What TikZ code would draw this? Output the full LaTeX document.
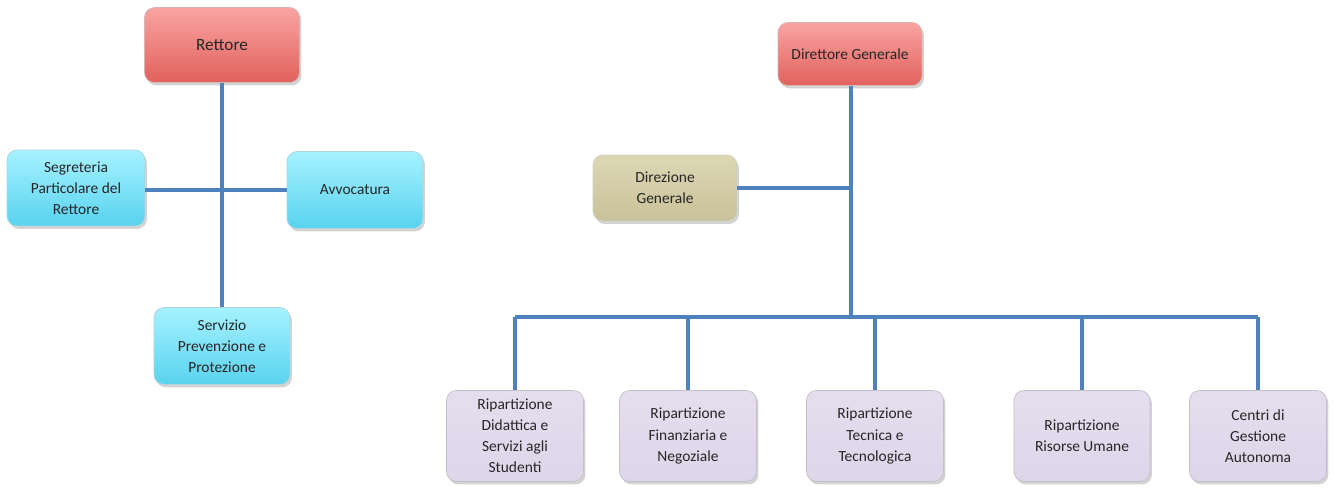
\documentclass[tikz,border=0pt]{standalone}
\usepackage{fontspec}
\setmainfont{Carlito}
\usepackage{tikz}
\usetikzlibrary{positioning, shadows}
\definecolor{linkblue}{HTML}{4F81BD}
\definecolor{redtop}{HTML}{F8A4A2}
\definecolor{redbot}{HTML}{E2615C}
\definecolor{cyantop}{HTML}{A6F2FF}
\definecolor{cyanbot}{HTML}{58D3EF}
\definecolor{khakitop}{HTML}{DDD7B4}
\definecolor{khakibot}{HTML}{C9C199}
\definecolor{lilac}{HTML}{DDD6EA}

\begin{document}
\begin{tikzpicture}[x=0.02cm, y=-0.02cm,
  box/.style={rounded corners=0.2cm, align=center, inner sep=2pt,
    font=\fontsize{8.8}{12}\selectfont, text=black!85,
    drop shadow={shadow xshift=0.04cm, shadow yshift=-0.06cm, opacity=0.35}},
  redbox/.style={box, top color=redtop, bottom color=redbot, draw=redbot!70!black!40},
  cyanbox/.style={box, top color=cyantop, bottom color=cyanbot, draw=cyanbot!70!black!40},
  khakibox/.style={box, top color=khakitop, bottom color=khakibot, draw=khakibot!70!black!40},
  lilacbox/.style={box, top color=lilac!80!white, bottom color=lilac, draw=lilac!60!black!50},
  link/.style={linkblue, line width=2pt}]
\useasboundingbox (0,0) rectangle (1333,489);

% Rettore branch
\node[redbox, minimum width=3.1cm, minimum height=1.5cm, font=\fontsize{9.8}{12}\selectfont] (rett) at (222,45) {Rettore};
\node[cyanbox, minimum width=2.76cm, minimum height=1.52cm] (segr) at (76,188) {Segreteria\\Particolare del\\Rettore};
\node[cyanbox, minimum width=2.72cm, minimum height=1.54cm] (avvo) at (355,190) {Avvocatura};
\node[cyanbox, minimum width=2.72cm, minimum height=1.54cm] (serv) at (222,346) {Servizio\\Prevenzione e\\Protezione};

\draw[link] (rett.south) -- (serv.north);
\draw[link] (segr.east |- avvo.west) -- (avvo.west);

% Direttore Generale branch
\node[redbox, minimum width=2.88cm, minimum height=1.26cm] (dirg) at (850,54) {Direttore Generale};
\node[khakibox, minimum width=2.88cm, minimum height=1.32cm] (dirz) at (665,188) {Direzione\\Generale};
\coordinate (bus) at (851,317);

\node[lilacbox, minimum width=2.74cm, minimum height=1.82cm] (rdid) at (515,436) {Ripartizione\\Didattica e\\Servizi agli\\Studenti};
\node[lilacbox, minimum width=2.74cm, minimum height=1.82cm] (rfin) at (688,436) {Ripartizione\\Finanziaria e\\Negoziale};
\node[lilacbox, minimum width=2.74cm, minimum height=1.82cm] (rtec) at (875,436) {Ripartizione\\Tecnica e\\Tecnologica};
\node[lilacbox, minimum width=2.72cm, minimum height=1.82cm] (rris) at (1082,436) {Ripartizione\\Risorse Umane};
\node[lilacbox, minimum width=2.74cm, minimum height=1.82cm] (cges) at (1258,436) {Centri di\\Gestione\\Autonoma};

\draw[link] (dirg.south -| bus) -- (bus);
\draw[link] (dirz.east) -- (dirz.east -| bus);
\draw[link] (bus -| rdid) -- (bus -| cges);
\foreach \n in {rdid,rfin,rtec,rris,cges}{
  \draw[link] (bus -| \n.north) -- (\n.north);
}
\end{tikzpicture}
\end{document}
